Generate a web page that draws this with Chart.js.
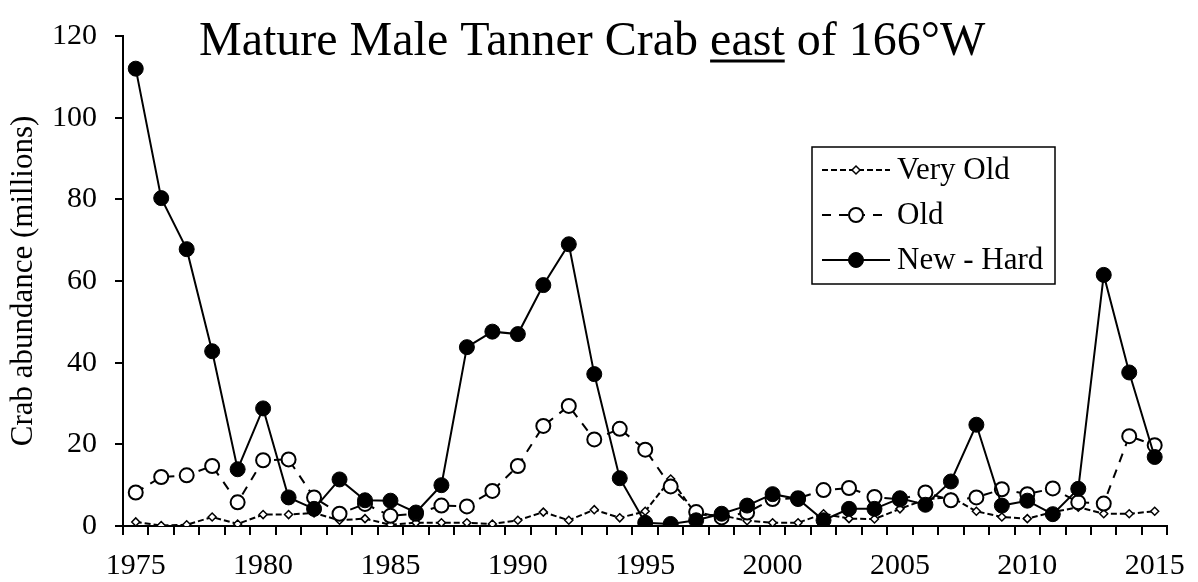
<!DOCTYPE html>
<html>
<head>
<meta charset="utf-8">
<script src="https://cdn.jsdelivr.net/npm/chart.js@4.4.1/dist/chart.umd.min.js"></script>
<style>
  html, body { margin: 0; padding: 0; background: #fff; }
  canvas { display: block; }
</style>
</head>
<body>
<canvas id="crabChart" width="1198" height="582"></canvas>
<script>
// survey years
const years = [
  '1975', '1976', '1977', '1978', '1979', '1980', '1981', '1982', '1983', '1984',
  '1985', '1986', '1987', '1988', '1989', '1990', '1991', '1992', '1993', '1994',
  '1995', '1996', '1997', '1998', '1999', '2000', '2001', '2002', '2003', '2004',
  '2005', '2006', '2007', '2008', '2009', '2010', '2011', '2012', '2013', '2014',
  '2015'
];

// abundance in millions, by shell condition
const veryOld = [
  1.0, 0.1, 0.3, 2.2, 0.5, 2.8, 2.8, 3.2, 1.4, 1.8,
  0.3, 0.8, 0.8, 0.8, 0.5, 1.4, 3.4, 1.4, 4.0, 2.0,
  3.6, 11.5, 2.8, 2.6, 1.3, 0.8, 0.8, 3.0, 1.8, 1.7,
  4.2, 6.5, 7.1, 3.6, 2.2, 1.8, 3.4, 4.6, 3.0, 3.0,
  3.6
];
const oldShell = [
  8.2, 12.0, 12.4, 14.7, 5.8, 16.1, 16.3, 7.0, 3.0, 5.4,
  2.5, 3.0, 5.0, 4.8, 8.6, 14.7, 24.5, 29.4, 21.2, 23.8,
  18.7, 9.7, 3.4, 2.1, 3.3, 6.6, 6.8, 8.8, 9.3, 7.1,
  6.5, 8.2, 6.3, 7.0, 9.0, 7.8, 9.2, 5.8, 5.5, 22.0,
  19.8
];
const newHard = [
  112.0, 80.3, 67.8, 42.8, 13.9, 28.8, 7.0, 4.2, 11.4, 6.3,
  6.2, 3.3, 10.0, 43.8, 47.6, 47.0, 59.0, 69.0, 37.2, 11.7,
  0.8, 0.5, 1.4, 3.0, 5.0, 7.8, 6.6, 1.4, 4.2, 4.2,
  6.8, 5.2, 10.9, 24.8, 5.0, 6.2, 2.9, 9.1, 61.5, 37.6,
  16.9
];

const yearTicks = ['1975', '1980', '1985', '1990', '1995', '2000', '2005', '2010', '2015'];
const valueTicks = [0, 20, 40, 60, 80, 100, 120];

const serif = '"Liberation Serif", "Times New Roman", serif';

const seriesStyle = [
  { label: 'Very Old', data: veryOld, dash: [6, 3], point: 'rectRot', radius: 4, fill: '#fff', bw: 1.5 },
  { label: 'Old', data: oldShell, dash: [9, 8], point: 'circle', radius: 7, fill: '#fff', bw: 2 },
  { label: 'New - Hard', data: newHard, dash: [], point: 'circle', radius: 7.5, fill: '#000', bw: 1 }
];

// title with "east" underlined
const titlePlugin = {
  id: 'crabTitle',
  afterDraw(chart) {
    const ctx = chart.ctx;
    ctx.save();
    ctx.font = '48px ' + serif;
    ctx.fillStyle = '#000';
    ctx.textBaseline = 'alphabetic';
    const parts = [['Mature Male Tanner Crab ', false], ['east', true], [' of 166\u00B0W', false]];
    let x = 199;
    const y = 55;
    parts.forEach(([txt, underline]) => {
      ctx.fillText(txt, x, y);
      const w = ctx.measureText(txt).width;
      if (underline) ctx.fillRect(x, y + 4.5, w, 3);
      x += w;
    });
    ctx.restore();
  }
};

// boxed legend inside the plot area
const legendPlugin = {
  id: 'crabLegend',
  afterDraw(chart) {
    const ctx = chart.ctx;
    const box = { x: 812, y: 147, w: 243, h: 137 };
    ctx.save();
    ctx.fillStyle = '#fff';
    ctx.fillRect(box.x, box.y, box.w, box.h);
    ctx.strokeStyle = '#000';
    ctx.lineWidth = 1.5;
    ctx.strokeRect(box.x, box.y, box.w, box.h);

    ctx.font = '31px ' + serif;
    ctx.textBaseline = 'middle';
    seriesStyle.forEach((s, i) => {
      const cy = box.y + 23 + i * 45;
      const x0 = box.x + 10, x1 = box.x + 78, cx = (x0 + x1) / 2;
      ctx.setLineDash(s.dash);
      ctx.lineWidth = 2;
      ctx.strokeStyle = '#000';
      ctx.beginPath();
      ctx.moveTo(x0, cy);
      ctx.lineTo(x1, cy);
      ctx.stroke();
      ctx.setLineDash([]);
      ctx.fillStyle = s.fill;
      ctx.strokeStyle = '#000';
      ctx.lineWidth = s.bw;
      Chart.helpers.drawPoint(ctx, {
        pointStyle: s.point, radius: s.radius, borderWidth: s.bw, rotation: 0
      }, cx, cy);
      ctx.fillStyle = '#000';
      ctx.fillText(s.label, box.x + 85, cy + 1);
    });
    ctx.restore();
  }
};

const datasets = seriesStyle.map((s, i) => ({
  label: s.label,
  data: s.data,
  borderColor: '#000',
  borderWidth: 2,
  borderDash: s.dash,
  pointStyle: s.point,
  pointRadius: s.radius,
  pointBorderWidth: s.bw,
  pointBackgroundColor: s.fill,
  pointBorderColor: '#000',
  tension: 0,
  order: 3 - i
}));

const ctx = document.getElementById('crabChart').getContext('2d');
new Chart(ctx, {
  type: 'line',
  data: { labels: years, datasets },
  options: {
    responsive: false,
    animation: false,
    layout: { padding: { top: 21, right: 25, left: 0, bottom: 0 } },
    plugins: {
      legend: { display: false },
      title: { display: false },
      tooltip: { enabled: false }
    },
    scales: {
      x: {
        type: 'category',
        offset: true,
        grid: { offset: true, drawOnChartArea: false, drawTicks: true, tickLength: 9, color: '#000', lineWidth: 2 },
        border: { display: true, color: '#000', width: 2 },
        ticks: {
          autoSkip: false,
          maxRotation: 0,
          padding: 13,
          color: '#000',
          font: { family: serif, size: 30 },
          callback(value) {
            const lbl = this.getLabelForValue(value);
            return yearTicks.includes(lbl) ? lbl : '';
          }
        },
        afterFit(scale) { scale.height = 56; }
      },
      y: {
        min: valueTicks[0],
        max: valueTicks[valueTicks.length - 1],
        grid: { drawOnChartArea: false, drawTicks: true, tickLength: 8, color: '#000', lineWidth: 2 },
        border: { display: true, color: '#000', width: 2 },
        afterBuildTicks(scale) { scale.ticks = valueTicks.map(v => ({ value: v })); },
        ticks: {
          padding: 18,
          color: '#000',
          font: { family: serif, size: 30 }
        },
        title: {
          display: true,
          text: 'Crab abundance (millions)',
          color: '#000',
          font: { family: serif, size: 31 },
          padding: { top: 5, bottom: 0 }
        },
        afterFit(scale) { scale.width = 123; }
      }
    }
  },
  plugins: [titlePlugin, legendPlugin]
});
</script>
</body>
</html>
